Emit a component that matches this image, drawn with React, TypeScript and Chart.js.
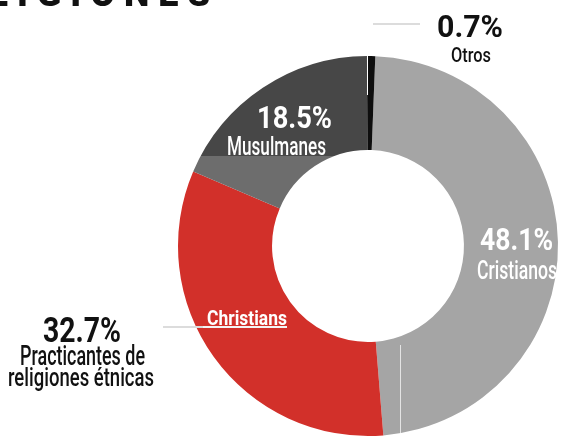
import React, { useEffect, useRef } from 'react';
import { Chart, registerables } from 'chart.js';

Chart.register(...registerables);

// ---- data ----
const categories = ['Cristianos', 'Practicantes de religiones étnicas', 'Musulmanes', 'Otros'];
const values = [48.1, 32.7, 18.5, 0.7];
const colors = ['#a5a5a5', '#d2302a', '#474747', '#0e0e0e'];
const musulmanesLower = '#6d6d6d';
const titleText = 'RELIGIONES';
const innerTag = 'Christians';

const W = 565;
const H = 439;

type Lbl = { t: string; x: number; y: number; s: number; w: number; c: string; fw: string };

function drawFit(ctx: CanvasRenderingContext2D, l: Lbl) {
  ctx.save();
  ctx.font = `${l.fw} ${l.s}px Roboto, "Noto Sans", sans-serif`;
  ctx.fillStyle = l.c;
  ctx.textAlign = 'center';
  ctx.textBaseline = 'alphabetic';
  const m = ctx.measureText(l.t).width;
  const sx = l.w / m;
  ctx.translate(l.x, l.y);
  ctx.scale(sx, 1);
  ctx.fillText(l.t, 0, 0);
  ctx.restore();
}

const labelPlugin = {
  id: 'labelPlugin',
  afterDraw(chart: any) {
    const ctx: CanvasRenderingContext2D = chart.ctx;
    const pct = (i: number) => `${values[i]}%`;

    // leader lines
    ctx.save();
    ctx.strokeStyle = '#dcdcdc';
    ctx.lineWidth = 2;
    ctx.beginPath();
    ctx.moveTo(373, 24);
    ctx.lineTo(420, 24);
    ctx.stroke();
    ctx.beginPath();
    ctx.moveTo(163, 327);
    ctx.lineTo(203, 327);
    ctx.stroke();
    ctx.strokeStyle = '#f4f4f4';
    ctx.beginPath();
    ctx.moveTo(203, 327);
    ctx.lineTo(287, 327);
    ctx.stroke();
    // thin white separators
    ctx.strokeStyle = '#ffffff';
    ctx.lineWidth = 1;
    ctx.beginPath();
    ctx.moveTo(367.5, 56);
    ctx.lineTo(367.5, 95);
    ctx.stroke();
    ctx.strokeStyle = 'rgba(255,255,255,0.7)';
    ctx.beginPath();
    ctx.moveTo(400.5, 345);
    ctx.lineTo(400.5, 439);
    ctx.stroke();
    ctx.restore();

    const labels: Lbl[] = [
      { t: pct(3), x: 470, y: 37, s: 31, w: 66, c: '#111', fw: 'bold' },
      { t: categories[3], x: 471, y: 62, s: 21, w: 40, c: '#111', fw: '500' },
      { t: pct(2), x: 294.5, y: 128, s: 32, w: 75, c: '#fff', fw: 'bold' },
      { t: categories[2], x: 276.5, y: 155, s: 25, w: 99, c: '#fff', fw: '500' },
      { t: pct(0), x: 516.5, y: 250, s: 32, w: 73, c: '#fff', fw: 'bold' },
      { t: categories[0], x: 517, y: 279, s: 26, w: 80, c: '#fff', fw: '500' },
      { t: innerTag, x: 247, y: 325, s: 21, w: 80, c: '#fff', fw: 'bold' },
      { t: pct(1), x: 82, y: 342, s: 35, w: 78, c: '#111', fw: 'bold' },
      { t: 'Practicantes de', x: 82.5, y: 365, s: 27, w: 125, c: '#111', fw: '500' },
      { t: 'religiones étnicas', x: 81, y: 386, s: 26, w: 146, c: '#111', fw: '500' },
    ];
    labels.forEach((l) => drawFit(ctx, l));

    // cut-off title
    ctx.save();
    ctx.font = '900 36px Roboto, sans-serif';
    ctx.fillStyle = '#111';
    (ctx as any).letterSpacing = '9px';
    ctx.textAlign = 'right';
    ctx.textBaseline = 'alphabetic';
    ctx.fillText(titleText, 219, 6);
    ctx.restore();
  },
};

export default function App() {
  const ref = useRef<HTMLCanvasElement | null>(null);

  useEffect(() => {
    if (!ref.current) return;
    const chart = new Chart(ref.current, {
      type: 'doughnut',
      data: {
        labels: categories,
        datasets: [
          {
            data: values,
            backgroundColor: (c: any) => {
              const i = c.dataIndex;
              if (i !== 2) return colors[i];
              const area = c.chart.chartArea;
              if (!area) return colors[i];
              const g = c.chart.ctx.createLinearGradient(0, area.top, 0, area.bottom);
              const f = 0.263;
              g.addColorStop(0, colors[2]);
              g.addColorStop(f, colors[2]);
              g.addColorStop(f + 0.0001, musulmanesLower);
              g.addColorStop(1, musulmanesLower);
              return g;
            },
            borderWidth: 0,
          },
        ],
      },
      options: {
        responsive: false,
        animation: false,
        rotation: 2.2,
        cutout: '50.5%',
        layout: { padding: { left: 178, right: 7, top: 56, bottom: 3 } },
        plugins: {
          legend: { display: false },
          tooltip: { enabled: false },
          title: { display: false },
        },
      },
      plugins: [labelPlugin],
    });
    return () => chart.destroy();
  }, []);

  return (
    <div style={{ position: 'absolute', left: 0, top: 0, width: W, height: H, background: '#fff' }}>
      <canvas ref={ref} width={W} height={H} style={{ display: 'block' }} />
    </div>
  );
}
